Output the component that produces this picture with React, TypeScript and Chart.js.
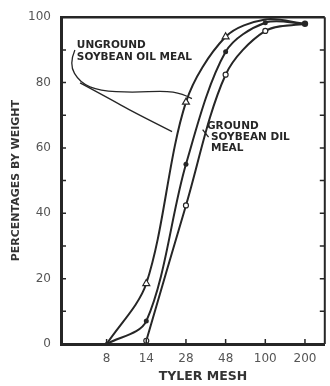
import React, { useEffect, useRef } from 'react';
import { Chart, registerables } from 'chart.js';

Chart.register(...registerables);

// ---- data ----
const meshLabels = ['8', '14', '28', '48', '100', '200'];
const meshPositions = [1, 2, 3, 4, 5, 6];
const ungroundTriangle = [0, 18.5, 74, 94, 99.3, 98];
const ungroundDot = [0, 7, 55, 89.4, 98.3, 98];
const groundCircle: (number | null)[] = [null, 1, 42.4, 82.4, 95.8, 98];
const yTickValues = [0, 10, 20, 30, 40, 50, 60, 70, 80, 90, 100];

// annotation text & leaders (data units)
const ungroundText = ['UNGROUND', 'SOYBEAN OIL MEAL'];
const groundText = ['GROUND', 'SOYBEAN DIL', 'MEAL'];
const ungroundTextAnchor = { x: 0.25, y: 91.5 };
const groundTextAnchor = { x: 3.53, y: 66.6 };
const leaderOne = [
  [0.2, 90], [0.05, 85.7], [0.33, 79.9], [0.83, 77.5], [1.65, 76.9], [2.45, 77.5], [2.9, 76.6], [3.15, 75.1],
];
const leaderTwo = [
  [0.33, 79.9], [1.07, 75.1], [1.65, 71.1], [2.65, 65.0],
];
const leaderGround = [
  [3.57, 63.3], [3.42, 65.6],
];

const INK = '#262626';

function series(values: (number | null)[]) {
  const out: { x: number; y: number }[] = [];
  values.forEach((v, i) => {
    if (v !== null) out.push({ x: meshPositions[i], y: v });
  });
  return out;
}

const framePlugin = {
  id: 'frame',
  afterDraw(chart: any) {
    const { ctx, chartArea: a, scales } = chart;
    const xs = scales.x;
    const ys = scales.y;
    ctx.save();
    ctx.strokeStyle = INK;
    ctx.lineCap = 'butt';
    ctx.lineWidth = 2.5;
    ctx.beginPath();
    ctx.moveTo(a.left, a.top);
    ctx.lineTo(a.right, a.top);
    ctx.stroke();
    ctx.lineWidth = 2;
    ctx.beginPath();
    ctx.moveTo(a.right, a.top);
    ctx.lineTo(a.right, a.bottom);
    ctx.stroke();
    ctx.lineWidth = 1.5;
    yTickValues.forEach((v) => {
      if (v === 0 || v === 100) return;
      const py = ys.getPixelForValue(v);
      ctx.beginPath();
      ctx.moveTo(a.left, py);
      ctx.lineTo(a.left + 5, py);
      ctx.moveTo(a.right, py);
      ctx.lineTo(a.right - 5, py);
      ctx.stroke();
    });
    meshPositions.forEach((v) => {
      const px = xs.getPixelForValue(v);
      ctx.beginPath();
      ctx.moveTo(px, a.bottom);
      ctx.lineTo(px, a.bottom - 5);
      ctx.stroke();
    });

    const P = (p: number[]) => [xs.getPixelForValue(p[0]), ys.getPixelForValue(p[1])];
    const smooth = (pts: number[][]) => {
      const q = pts.map(P);
      ctx.beginPath();
      ctx.moveTo(q[0][0], q[0][1]);
      if (q.length === 2) {
        ctx.lineTo(q[1][0], q[1][1]);
      } else {
        for (let i = 1; i < q.length - 1; i++) {
          const last = i === q.length - 2;
          const mx = last ? q[i + 1][0] : (q[i][0] + q[i + 1][0]) / 2;
          const my = last ? q[i + 1][1] : (q[i][1] + q[i + 1][1]) / 2;
          ctx.quadraticCurveTo(q[i][0], q[i][1], mx, my);
        }
      }
      ctx.stroke();
    };
    ctx.lineWidth = 1.3;
    smooth(leaderOne);
    smooth(leaderTwo);
    smooth(leaderGround);

    ctx.fillStyle = INK;
    ctx.font = 'bold 10.5px "DejaVu Sans", sans-serif';
    ctx.textBaseline = 'middle';
    ctx.textAlign = 'left';
    const ua = P([ungroundTextAnchor.x, ungroundTextAnchor.y]);
    ungroundText.forEach((t, i) => ctx.fillText(t, ua[0], ua[1] + i * 12));
    const ga = P([groundTextAnchor.x, groundTextAnchor.y]);
    groundText.forEach((t, i) => ctx.fillText(t, ga[0] + (i === 0 ? 0 : 4), ga[1] + i * 11));

    ctx.font = 'bold 12.5px "DejaVu Sans", sans-serif';
    ctx.textAlign = 'center';
    ctx.fillStyle = '#333';
    ctx.fillText('TYLER MESH', (a.left + a.right) / 2 + 10, 377);
    ctx.restore();
  },
};

export default function App() {
  const ref = useRef<HTMLCanvasElement>(null);
  useEffect(() => {
    if (!ref.current) return;
    const common = {
      borderColor: INK,
      borderWidth: 2,
      tension: 0.32,
      fill: false,
      pointBorderColor: INK,
    };
    const chart = new Chart(ref.current, {
      type: 'line',
      data: {
        datasets: [
          {
            ...common,
            label: 'Unground (triangle)',
            data: series(ungroundTriangle),
            backgroundColor: '#fff',
            pointBackgroundColor: '#fff',
            pointStyle: 'triangle',
            pointRadius: [0, 4, 4, 4, 0, 0],
            pointBorderWidth: 1.2,
          },
          {
            ...common,
            label: 'Unground (dot)',
            data: series(ungroundDot),
            backgroundColor: INK,
            pointBackgroundColor: INK,
            pointStyle: 'circle',
            pointRadius: [2, 2.5, 2.5, 2.5, 2.5, 3.2],
            pointBorderWidth: 0,
          },
          {
            ...common,
            label: 'Ground (circle)',
            data: series(groundCircle),
            backgroundColor: '#fff',
            pointBackgroundColor: '#fff',
            pointStyle: 'circle',
            pointRadius: [2.5, 2.5, 2.5, 2.5, 0],
            pointBorderWidth: 1.2,
          },
        ],
      },
      options: {
        responsive: false,
        animation: false,
        devicePixelRatio: 1,
        layout: { padding: { top: 14, right: 3, left: 0, bottom: 0 } },
        plugins: { legend: { display: false }, tooltip: { enabled: false } },
        scales: {
          x: {
            type: 'linear',
            min: -0.15,
            max: 6.5,
            afterBuildTicks: (s: any) => {
              s.ticks = meshPositions.map((v) => ({ value: v }));
            },
            afterFit: (s: any) => {
              s.height = 42;
            },
            ticks: {
              autoSkip: false,
              maxRotation: 0,
              padding: 8,
              color: '#555',
              font: { family: '"DejaVu Sans", sans-serif', size: 12 },
              callback: (v: any) => {
                const i = meshPositions.indexOf(Number(v));
                return i >= 0 ? meshLabels[i] : '';
              },
            },
            grid: { display: true, drawOnChartArea: false, drawTicks: false },
            border: { display: true, width: 3, color: INK },
          },
          y: {
            min: 0,
            max: 100,
            afterBuildTicks: (s: any) => {
              s.ticks = yTickValues.map((v) => ({ value: v }));
            },
            afterFit: (s: any) => {
              s.width = 61;
            },
            ticks: {
              padding: 10,
              color: '#555',
              font: { family: '"DejaVu Sans", sans-serif', size: 12 },
              callback: (v: any) => (Number(v) % 20 === 0 ? String(v) : ''),
            },
            grid: { display: true, drawOnChartArea: false, drawTicks: false },
            border: { display: true, width: 3, color: INK },
            title: {
              display: true,
              text: 'PERCENTAGES BY WEIGHT',
              color: '#333',
              padding: { top: 10, bottom: 0 },
              font: { family: '"DejaVu Sans", sans-serif', size: 11, weight: 'bold' },
            },
          },
        },
      },
      plugins: [framePlugin],
    });
    return () => chart.destroy();
  }, []);

  return (
    <div style={{ position: 'absolute', left: 0, top: 0, width: 330, height: 386, background: '#fff' }}>
      <canvas ref={ref} width={330} height={386} style={{ width: 330, height: 386, display: 'block' }} />
    </div>
  );
}
